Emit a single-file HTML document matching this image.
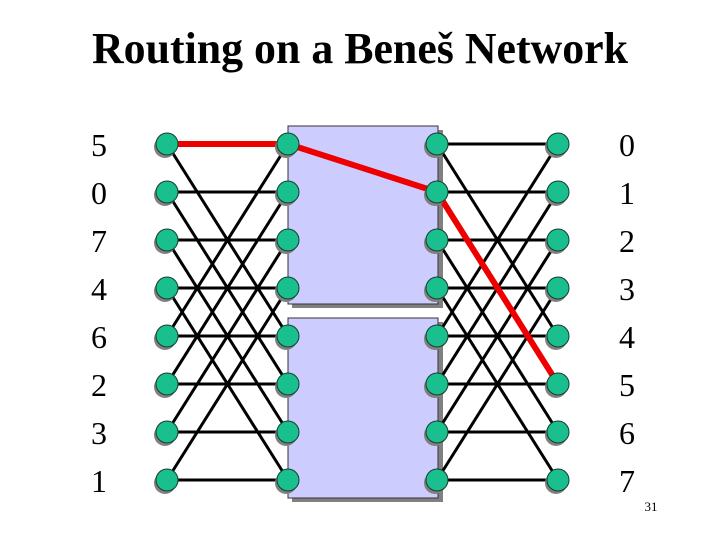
<!DOCTYPE html>
<html><head><meta charset="utf-8"><style>
html,body{margin:0;padding:0;background:#fff;width:720px;height:540px;overflow:hidden}
</style></head><body>
<svg width="720" height="540" xmlns="http://www.w3.org/2000/svg">
<text x="360" y="63" text-anchor="middle" font-family="Liberation Serif, serif" font-weight="bold" font-size="44" textLength="536" lengthAdjust="spacingAndGlyphs">Routing on a Beneš Network</text>
<rect x="292" y="130" width="151" height="178" fill="#808080"/>
<rect x="288" y="126" width="150" height="178" fill="#ccccff" stroke="#333" stroke-width="1"/>
<rect x="292" y="322" width="151" height="180" fill="#808080"/>
<rect x="288" y="318" width="150" height="180" fill="#ccccff" stroke="#333" stroke-width="1"/>
<g id="wires" stroke="#000" stroke-width="3"></g>
<g id="red" stroke="#ee0000" stroke-width="6" stroke-linecap="round" fill="none">
<line x1="167" y1="144" x2="288" y2="144"/>
<line x1="288" y1="144" x2="437" y2="192"/>
<line x1="437" y1="192" x2="558" y2="384"/>
</g>
<g id="nodes"></g>
<g font-family="Liberation Serif, serif" font-size="32" text-anchor="middle">
<text x="99" y="156">5</text><text x="99" y="204">0</text><text x="99" y="252">7</text><text x="99" y="300">4</text>
<text x="99" y="348">6</text><text x="99" y="396">2</text><text x="99" y="444">3</text><text x="99" y="492">1</text>
<text x="627" y="156">0</text><text x="627" y="204">1</text><text x="627" y="252">2</text><text x="627" y="300">3</text>
<text x="627" y="348">4</text><text x="627" y="396">5</text><text x="627" y="444">6</text><text x="627" y="492">7</text>
</g>
<text x="651" y="511" text-anchor="middle" font-family="Liberation Serif, serif" font-size="13">31</text>
</svg>
<script>
(function(){
var ns="http://www.w3.org/2000/svg";
var ys=[144,192,240,288,336,384,432,480];
var w=document.getElementById("wires"),n=document.getElementById("nodes");
function L(x1,y1,x2,y2){var l=document.createElementNS(ns,"line");l.setAttribute("x1",x1);l.setAttribute("y1",y1);l.setAttribute("x2",x2);l.setAttribute("y2",y2);w.appendChild(l);}
[[167,288],[437,558]].forEach(function(p){
for(var i=0;i<8;i++){
if(!(p[0]==167&&i==0))L(p[0],ys[i],p[1],ys[i]);
var j=i<4?i+4:i-4;L(p[0],ys[i],p[1],ys[j]);
}});
[167,288,437,558].forEach(function(x){ys.forEach(function(y){
var s=document.createElementNS(ns,"circle");s.setAttribute("cx",x-2);s.setAttribute("cy",y+3);s.setAttribute("r",11);s.setAttribute("fill","#808080");n.appendChild(s);
var c=document.createElementNS(ns,"circle");c.setAttribute("cx",x);c.setAttribute("cy",y);c.setAttribute("r",11);c.setAttribute("fill","#19c08e");c.setAttribute("stroke","#1a3a2a");c.setAttribute("stroke-width","1");n.appendChild(c);
});});
})();
</script>
</body></html>
